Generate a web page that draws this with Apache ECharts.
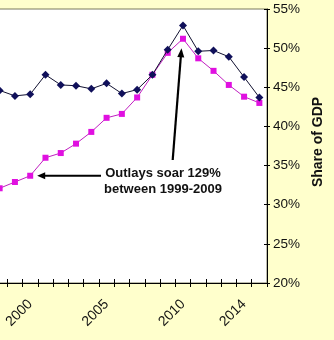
<!DOCTYPE html>
<html><head><meta charset="utf-8">
<script src="https://cdn.jsdelivr.net/npm/echarts@6/dist/echarts.min.js"></script>
<style>html,body{margin:0;padding:0;background:#FFFFCC;overflow:hidden;width:334px;height:340px;}
#c{position:absolute;left:-8px;top:0;width:342px;height:340px;}</style>
</head><body><div id="c"></div>
<script>
// ---- data ----
const years = ['1998','1999','2000','2001','2002','2003','2004','2005','2006','2007','2008','2009','2010','2011','2012','2013','2014','2015'];
const outlaysShare = [32.1,32.9,33.7,36.0,36.6,37.8,39.3,41.1,41.6,43.7,46.6,49.4,51.2,48.7,47.1,45.3,43.8,43.0];
const otherShare   = [44.6,43.9,44.1,46.6,45.3,45.2,44.8,45.5,44.2,44.7,46.6,49.8,52.9,49.6,49.7,48.9,46.3,43.7];
const shownYearLabels = ['2000','2005','2010','2014'];
const yMin = 20, yMax = 55, yStep = 5;
const axisTitle = 'Share of GDP';
const annotationLines = ['Outlays soar 129%', 'between 1999-2009'];
const arrowTargets = [{year:'2000', value:33.7}, {year:'2010', value:51.2}];

const FONT = '"Liberation Sans", Arial, sans-serif';
const SHIFT = 8; // chart canvas starts 8px left of the visible frame
const chart = echarts.init(document.getElementById('c'), null, {renderer:'canvas'});

const option = {
  animation: false,
  backgroundColor: '#FFFFCC',
  grid: {left: 0, right: 67, top: 9, bottom: 57, show: true, backgroundColor: '#ffffff', borderColor: '#7a7a5c', borderWidth: 1},
  xAxis: [
    {type:'category', data: years, position:'bottom', boundaryGap:true,
     axisLine:{show:true, lineStyle:{color:'#000', width:1}},
     axisTick:{show:true, interval:0, length:4, lineStyle:{color:'#000'}},
     axisLabel:{interval:0, rotate:45, margin:19, fontSize:14, color:'#111', fontFamily:FONT,
                formatter: v => shownYearLabels.includes(v) ? v : ''},
     splitLine:{show:false}},
    {type:'category', data: years, position:'bottom', boundaryGap:true,
     axisLine:{show:false},
     axisTick:{show:true, inside:true, interval:0, length:4, lineStyle:{color:'#000'}},
     axisLabel:{show:false}, splitLine:{show:false}}
  ],
  yAxis: [
    {type:'value', position:'right', min:yMin, max:yMax, interval:yStep,
     axisLine:{show:true, lineStyle:{color:'#000', width:1}},
     axisTick:{show:true, length:3, lineStyle:{color:'#000'}},
     axisLabel:{formatter:'{value}%', fontSize:13.5, color:'#111', margin:6, fontFamily:FONT},
     splitLine:{show:false},
     name: axisTitle, nameLocation:'middle', nameRotate:90, nameGap:40,
     nameTextStyle:{fontSize:14, fontWeight:'bold', color:'#111', fontFamily:FONT, padding:[0,0,0,8]}},
    {type:'value', position:'right', min:yMin, max:yMax, interval:yStep,
     axisLine:{show:false},
     axisTick:{show:true, inside:true, length:3, lineStyle:{color:'#000'}},
     axisLabel:{show:false}, splitLine:{show:false}}
  ],
  series: [
    {name:'Outlays', type:'line', data: outlaysShare, symbol:'rect', symbolSize:6, z:2,
     itemStyle:{color:'#E010E0'}, lineStyle:{color:'#C020C0', width:1}},
    {name:'Other', type:'line', data: otherShare, symbol:'diamond', symbolSize:8, z:3,
     itemStyle:{color:'#10105a'}, lineStyle:{color:'#101030', width:1}}
  ]
};
chart.setOption(option);

function arrow(from, to, head, half, w) {
  const dx = to[0]-from[0], dy = to[1]-from[1];
  const L = Math.hypot(dx, dy), ux = dx/L, uy = dy/L, nx = -uy, ny = ux;
  const bx = to[0]-ux*head, by = to[1]-uy*head;
  return [
    {type:'line', shape:{x1:from[0], y1:from[1], x2:bx+ux*1, y2:by+uy*1}, style:{stroke:'#000', lineWidth:w}, z:50},
    {type:'polygon', shape:{points:[[to[0],to[1]],[bx+nx*half,by+ny*half],[bx-nx*half,by-ny*half]]}, style:{fill:'#000'}, z:50}
  ];
}
const pA = chart.convertToPixel({gridIndex:0}, [arrowTargets[0].year, arrowTargets[0].value]);
const pB = chart.convertToPixel({gridIndex:0}, [arrowTargets[1].year, arrowTargets[1].value]);
const tipA = [pA[0]+7, pA[1]];
const tipB = [pB[0]-1.5, pB[1]+9.5];
const graphics = [].concat(
  arrow([101+SHIFT, tipA[1]], tipA, 8, 3.5, 2),
  arrow([172.7+SHIFT, 160], tipB, 9, 3.5, 2.2),
  [{type:'text', z:50, style:{text: annotationLines.join('\n'), x:163+SHIFT, y:181, align:'center', verticalAlign:'middle',
     fontSize:13, fontWeight:'bold', fontFamily:FONT, fill:'#111', lineHeight:16}}]
);
chart.setOption({graphic: graphics});
</script></body></html>
